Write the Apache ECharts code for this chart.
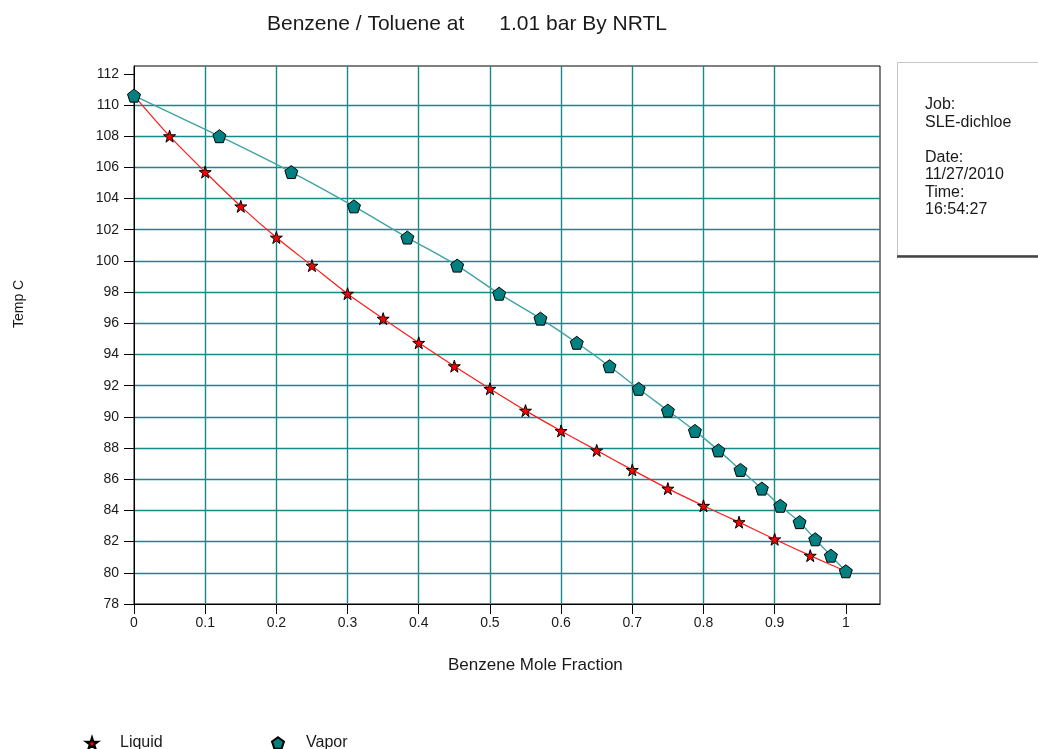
<!DOCTYPE html>
<html>
<head>
<meta charset="utf-8">
<script src="https://cdn.jsdelivr.net/npm/echarts@6/dist/echarts.min.js"></script>
<style>
html,body{margin:0;padding:0;background:#fff;}
#chart{width:1038px;height:749px;}
</style>
</head>
<body>
<div id="chart"></div>
<script>
// ---- data ----
const titleText = 'Benzene / Toluene at      1.01 bar By NRTL';
const xAxisTitle = 'Benzene Mole Fraction';
const yAxisTitle = 'Temp C';
const seriesNames = ['Liquid', 'Vapor'];
const xTicks = [0, 0.1, 0.2, 0.3, 0.4, 0.5, 0.6, 0.7, 0.8, 0.9, 1];
const yTicks = [78, 80, 82, 84, 86, 88, 90, 92, 94, 96, 98, 100, 102, 104, 106, 108, 110, 112];
// equilibrium temperatures (C)
const temps = [110.6, 108.0, 105.7, 103.5, 101.5, 99.7, 97.9, 96.3, 94.75, 93.25, 91.8, 90.4, 89.1, 87.85, 86.6, 85.4, 84.3, 83.25, 82.15, 81.1, 80.1];
// liquid benzene mole fraction
const liquidX = [0, 0.05, 0.1, 0.15, 0.2, 0.25, 0.3, 0.35, 0.4, 0.45, 0.5, 0.55, 0.6, 0.65, 0.7, 0.75, 0.8, 0.85, 0.9, 0.95, 1.0];
// vapor benzene mole fraction
const vaporX = [0, 0.12, 0.221, 0.309, 0.384, 0.454, 0.513, 0.571, 0.622, 0.668, 0.709, 0.75, 0.788, 0.821, 0.852, 0.882, 0.908, 0.935, 0.957, 0.979, 1.0];
const infoLines = ['Job:', 'SLE-dichloe', '', 'Date:', '11/27/2010', 'Time:', '16:54:27'];

// ---- chart ----
const starPath = 'path://M50,0 L61,35 L98,35 L68,57 L79,91 L50,70 L21,91 L32,57 L2,35 L39,35 Z';
const pentPath = 'path://M50,0 L98,35 L79,91 L21,91 L2,35 Z';
const liquidData = liquidX.map((x, i) => [x, temps[i]]);
const vaporData = vaporX.map((x, i) => [x, temps[i]]);
const FONT = '"Liberation Sans", Arial, sans-serif';
const gridColor = '#168a8a';

const chart = echarts.init(document.getElementById('chart'), null, {renderer: 'canvas'});
chart.setOption({
  animation: false,
  backgroundColor: '#fff',
  title: {
    text: titleText, left: 262, top: 9,
    textStyle: {fontFamily: FONT, fontSize: 21, fontWeight: 'normal', color: '#1a1a1a'}
  },
  grid: {left: 134, top: 66, width: 746, height: 538, show: true, borderColor: '#000', borderWidth: 1, backgroundColor: 'transparent'},
  xAxis: {
    type: 'value', min: 0, max: 1.048, interval: 0.1,
    axisLine: {show: true, onZero: false, lineStyle: {color: '#000', width: 1}},
    axisTick: {show: true, length: 10, customValues: xTicks, lineStyle: {color: '#000'}},
    axisLabel: {customValues: xTicks, margin: 12, fontFamily: FONT, fontSize: 14, color: '#1a1a1a'},
    splitLine: {show: true, showMinLine: false, showMaxLine: false, lineStyle: {color: gridColor, width: 1.4}}
  },
  yAxis: {
    type: 'value', min: 78, max: 112.5, interval: 2,
    axisLine: {show: true, onZero: false, lineStyle: {color: '#000', width: 1}},
    axisTick: {show: true, length: 10, customValues: yTicks, lineStyle: {color: '#000'}},
    axisLabel: {customValues: yTicks, margin: 15, fontFamily: FONT, fontSize: 14, color: '#1a1a1a'},
    splitLine: {show: true, showMinLine: false, showMaxLine: false, lineStyle: {color: gridColor, width: 1.4}}
  },
  legend: [
    {data: [{name: seriesNames[0], icon: starPath}], left: 80, top: 730, itemWidth: 12, itemHeight: 12,
     textStyle: {fontFamily: FONT, fontSize: 16, color: '#1a1a1a', padding: [0, 0, 0, 17]}},
    {data: [{name: seriesNames[1], icon: pentPath}], left: 266, top: 730, itemWidth: 12, itemHeight: 12,
     textStyle: {fontFamily: FONT, fontSize: 16, color: '#1a1a1a', padding: [0, 0, 0, 17]}}
  ],
  series: [
    {
      name: seriesNames[0], type: 'line', data: liquidData, smooth: 0.3,
      symbol: starPath, symbolSize: 12,
      lineStyle: {color: '#ff1a1a', width: 1.2},
      itemStyle: {color: '#ff0000', borderColor: '#000', borderWidth: 1},
      z: 3
    },
    {
      name: seriesNames[1], type: 'line', data: vaporData, smooth: 0.3,
      symbol: pentPath, symbolSize: 13,
      lineStyle: {color: '#3fa3a3', width: 1.4},
      itemStyle: {color: '#008080', borderColor: '#000', borderWidth: 1},
      z: 4
    }
  ],
  graphic: [
    {type: 'text', left: 448, top: 657,
     style: {text: xAxisTitle, font: '17px ' + FONT, fill: '#1a1a1a'}},
    {type: 'text', x: 12, y: 328, rotation: Math.PI / 2,
     style: {text: yAxisTitle, font: '14px ' + FONT, fill: '#1a1a1a'}},
    {type: 'rect', shape: {x: 897.5, y: 62.5, width: 160, height: 193},
     style: {fill: '#fff', stroke: '#c4c4c4', lineWidth: 1}},
    {type: 'line', shape: {x1: 897, y1: 256.5, x2: 1038, y2: 256.5},
     style: {stroke: '#444', lineWidth: 2.5}},
    {type: 'text', x: 925, y: 96,
     style: {text: infoLines.join('\n'), font: '16px ' + FONT, fill: '#1a1a1a', lineHeight: 17.5}}
  ]
});
</script>
</body>
</html>
